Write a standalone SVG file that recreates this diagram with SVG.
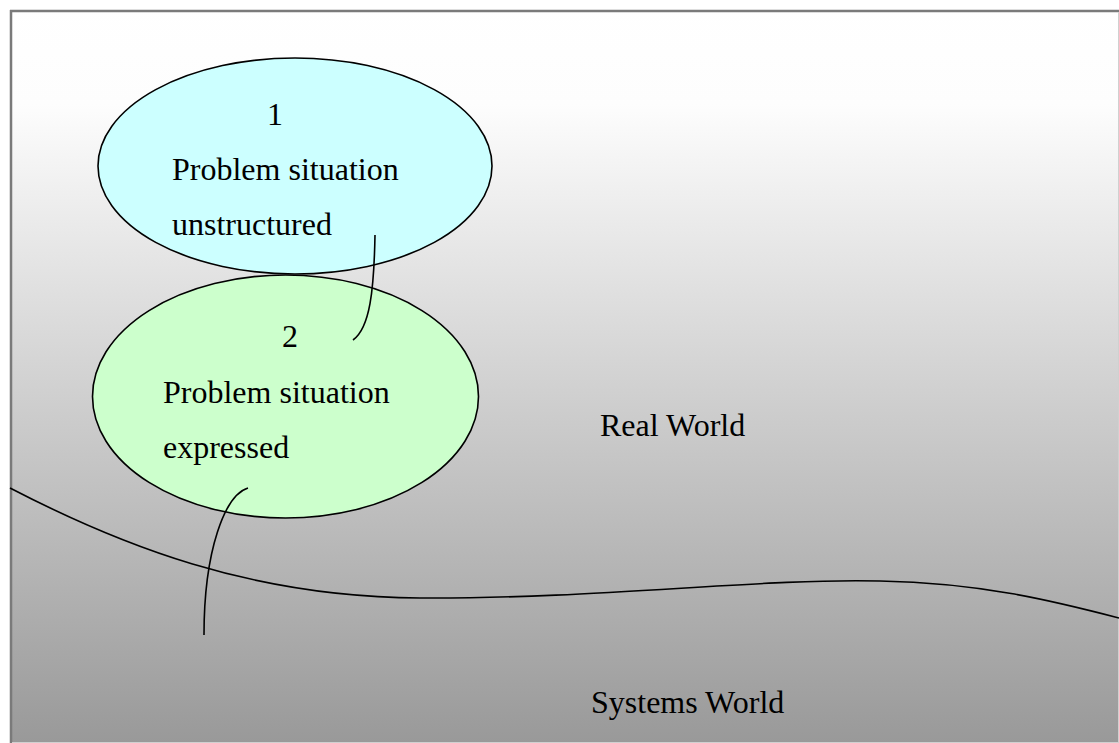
<svg xmlns="http://www.w3.org/2000/svg" width="1119" height="743" viewBox="0 0 1119 743">
<style>
.t{font-family:"Liberation Serif","Times New Roman",serif;font-size:32px;fill:#000}
.ln{fill:none;stroke:#000;stroke-width:1.6}
.node{stroke:#000;stroke-width:1.6}
</style>
<defs>
<linearGradient id="bg" gradientUnits="userSpaceOnUse" x1="0" y1="0" x2="0" y2="743">
<stop offset="0" stop-color="#ffffff"/>
<stop offset="0.14" stop-color="#fdfdfd"/>
<stop offset="1" stop-color="#999999"/>
</linearGradient>
</defs>
<rect x="0" y="0" width="1119" height="743" fill="#fff"/>
<g id="frame">
<rect x="10" y="10" width="1109" height="733" fill="url(#bg)"/>
<line x1="10" y1="11" x2="1119" y2="11" stroke="#7a7a7a" stroke-width="2.5"/>
<line x1="11" y1="10" x2="11" y2="743" stroke="#7a7a7a" stroke-width="2.5"/>
<line x1="1118.5" y1="12" x2="1118.5" y2="743" stroke="#d0d0d0" stroke-width="1"/>
<line x1="12" y1="742.5" x2="1119" y2="742.5" stroke="#d0d0d0" stroke-width="1"/>
</g>
<g id="boundary">
<path class="ln" d="M10,488 C120,545 250,597 420,598 C600,599 760,578 880,581 C980,583 1050,600 1119,618"/>
</g>
<g id="node1">
<ellipse class="node" cx="295" cy="166" rx="197" ry="108" fill="#ccffff"/>
<text class="t" x="267" y="125">1</text>
<text class="t" x="172" y="180">Problem situation</text>
<text class="t" x="172" y="235">unstructured</text>
</g>
<g id="node2">
<ellipse class="node" cx="285.5" cy="396.5" rx="193" ry="121.5" fill="#ccffcc"/>
<text class="t" x="282" y="347">2</text>
<text class="t" x="163" y="403">Problem situation</text>
<text class="t" x="163" y="458">expressed</text>
</g>
<g id="connectors">
<path class="ln" d="M375,235 C374,290 370,328 353,340"/>
<path class="ln" d="M248,488 C225,495 204,550 204,635"/>
</g>
<g id="labels">
<text class="t" x="600" y="436">Real World</text>
<text class="t" x="591" y="713">Systems World</text>
</g>
</svg>
